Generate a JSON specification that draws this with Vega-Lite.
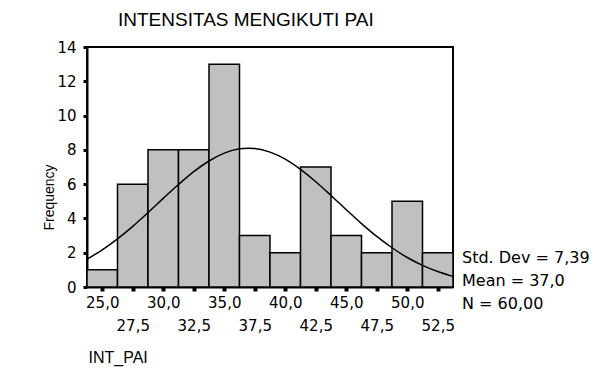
{
  "$schema": "https://vega.github.io/schema/vega-lite/v6.json",
  "width": 366,
  "height": 240,
  "autosize": {"type": "none"},
  "padding": {"left": 87, "top": 47, "right": 151, "bottom": 93},
  "background": "white",
  "title": {
    "text": "INTENSITAS MENGIKUTI PAI",
    "anchor": "start",
    "frame": "group",
    "dx": 31,
    "dy": 25,
    "offset": 20,
    "baseline": "alphabetic",
    "font": "Liberation Sans",
    "fontSize": 19,
    "fontWeight": "normal",
    "color": "black"
  },
  "config": {
    "view": {"stroke": "black", "strokeWidth": 2},
    "axis": {"grid": false}
  },
  "datasets": {
    "bins": [
      {"start": 23.75, "end": 26.25, "count": 1},
      {"start": 26.25, "end": 28.75, "count": 6},
      {"start": 28.75, "end": 31.25, "count": 8},
      {"start": 31.25, "end": 33.75, "count": 8},
      {"start": 33.75, "end": 36.25, "count": 13},
      {"start": 36.25, "end": 38.75, "count": 3},
      {"start": 38.75, "end": 41.25, "count": 2},
      {"start": 41.25, "end": 43.75, "count": 7},
      {"start": 43.75, "end": 46.25, "count": 3},
      {"start": 46.25, "end": 48.75, "count": 2},
      {"start": 48.75, "end": 51.25, "count": 5},
      {"start": 51.25, "end": 53.75, "count": 2}
    ],
    "curve": [
      {"x": 23.75, "y": 1.62},
      {"x": 25.0, "y": 2.17},
      {"x": 26.25, "y": 2.81},
      {"x": 27.5, "y": 3.54},
      {"x": 28.75, "y": 4.34},
      {"x": 30.0, "y": 5.17},
      {"x": 31.25, "y": 5.98},
      {"x": 32.5, "y": 6.73},
      {"x": 33.75, "y": 7.35},
      {"x": 35.0, "y": 7.81},
      {"x": 36.25, "y": 8.06},
      {"x": 37.0, "y": 8.10},
      {"x": 37.5, "y": 8.08},
      {"x": 38.75, "y": 7.87},
      {"x": 40.0, "y": 7.46},
      {"x": 41.25, "y": 6.86},
      {"x": 42.5, "y": 6.14},
      {"x": 43.75, "y": 5.34},
      {"x": 45.0, "y": 4.51},
      {"x": 46.25, "y": 3.70},
      {"x": 47.5, "y": 2.95},
      {"x": 48.75, "y": 2.29},
      {"x": 50.0, "y": 1.72},
      {"x": 51.25, "y": 1.26},
      {"x": 52.5, "y": 0.90},
      {"x": 53.75, "y": 0.62}
    ],
    "stats": [
      {"stat": "Std. Dev = 7,39"},
      {"stat": "Mean = 37,0"},
      {"stat": "N = 60,00"}
    ]
  },
  "layer": [
    {
      "data": {"name": "bins"},
      "mark": {"type": "rect", "fill": "#c0c0c0", "stroke": "black", "strokeWidth": 1.5},
      "encoding": {
        "x": {
          "field": "start",
          "type": "quantitative",
          "scale": {"domain": [23.75, 53.75], "nice": false, "zero": false},
          "axis": {
            "values": [25, 27.5, 30, 32.5, 35, 37.5, 40, 42.5, 45, 47.5, 50, 52.5],
            "tickCount": 30,
            "labelExpr": "replace(format(datum.value, '.1f'), '.', ',')",
            "labelFont": "DejaVu Sans",
            "labelFontSize": 15,
            "labelColor": "black",
            "labelBaseline": "top",
            "labelPadding": {"condition": {"test": "datum.value % 5 !== 0", "value": 27}, "value": 4},
            "labelFlush": false,
            "labelOverlap": false,
            "domainColor": "black",
            "domainWidth": 2,
            "tickColor": "black",
            "tickSize": 4,
            "tickWidth": 4,
            "title": "INT_PAI",
            "titleFont": "Liberation Sans",
            "titleFontSize": 16,
            "titleFontWeight": "normal",
            "titleColor": "black",
            "titleAlign": "left",
            "titleBaseline": "middle",
            "titleX": 1,
            "titleY": 70
          }
        },
        "x2": {"field": "end"},
        "y": {
          "field": "count",
          "type": "quantitative",
          "scale": {"domain": [0, 14], "nice": false},
          "axis": {
            "values": [0, 2, 4, 6, 8, 10, 12, 14],
            "tickCount": 30,
            "format": "d",
            "labelFont": "DejaVu Sans",
            "labelFontSize": 15,
            "labelColor": "black",
            "labelPadding": 7,
            "labelOverlap": false,
            "labelFlush": false,
            "domainColor": "black",
            "domainWidth": 2,
            "tickColor": "black",
            "tickSize": 4,
            "tickWidth": 3,
            "title": "Frequency",
            "titleFont": "Liberation Sans",
            "titleFontSize": 14,
            "titleFontWeight": "normal",
            "titleColor": "black",
            "titleAngle": -90,
            "titleAlign": "center",
            "titleBaseline": "middle",
            "titleX": -38,
            "titleY": 150
          }
        }
      }
    },
    {
      "data": {"name": "curve"},
      "mark": {"type": "line", "color": "black", "strokeWidth": 1.5, "interpolate": "monotone"},
      "encoding": {
        "x": {"field": "x", "type": "quantitative"},
        "y": {"field": "y", "type": "quantitative"}
      }
    },
    {
      "data": {"name": "stats"},
      "mark": {"type": "point", "opacity": 0},
      "encoding": {
        "color": {
          "field": "stat",
          "type": "nominal",
          "scale": {"domain": ["Std. Dev = 7,39", "Mean = 37,0", "N = 60,00"], "range": ["black", "black", "black"]},
          "legend": {
            "orient": "none",
            "legendX": 359,
            "legendY": 203,
            "title": null,
            "symbolSize": 0,
            "symbolOpacity": 0,
            "symbolStrokeWidth": 0,
            "labelOffset": 0,
            "labelFont": "DejaVu Sans",
            "labelFontSize": 16,
            "labelColor": "black",
            "rowPadding": 7,
            "padding": 0,
            "labelLimit": 300
          }
        }
      }
    }
  ]
}
